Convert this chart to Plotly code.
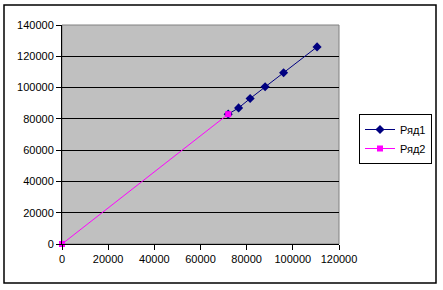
import plotly.graph_objects as go

# Data
ryad1_x = [72000, 76500, 81500, 88000, 96000, 110500]
ryad1_y = [83000, 87000, 93000, 100500, 109500, 126000]
ryad2_x = [0, 72000]
ryad2_y = [0, 83000]
series_names = ["Ряд1", "Ряд2"]
x_ticks = [0, 20000, 40000, 60000, 80000, 100000, 120000]
y_ticks = [0, 20000, 40000, 60000, 80000, 100000, 120000, 140000]

W, H = 443, 290
L, R, T, B = 62, 104, 25, 46
pw = W - L - R
ph = H - T - B

def px(x):
    return (x - L) / pw

def py(y):
    return (H - B - y) / ph

fig = go.Figure()
fig.add_trace(go.Scatter(
    x=ryad1_x, y=ryad1_y, name=series_names[0], mode="lines+markers",
    line=dict(color="#000080", width=1),
    marker=dict(symbol="diamond", size=7, color="#000080"),
    cliponaxis=False,
))
fig.add_trace(go.Scatter(
    x=ryad2_x, y=ryad2_y, name=series_names[1], mode="lines+markers",
    line=dict(color="#FF00FF", width=1),
    marker=dict(symbol="square", size=6, color="#FF00FF"),
    cliponaxis=False,
))

fig.update_layout(
    width=W, height=H,
    margin=dict(l=L, r=R, t=T, b=B, pad=0, autoexpand=False),
    paper_bgcolor="white",
    plot_bgcolor="#C0C0C0",
    font=dict(family="Liberation Sans, Arial", size=11, color="black"),
    showlegend=True,
    legend=dict(
        x=px(432), y=py(114), xanchor="right", yanchor="top",
        bordercolor="black", borderwidth=1, bgcolor="white",
        font=dict(size=11), tracegroupgap=0, itemwidth=30,
    ),
    xaxis=dict(
        range=[0, 120000], tickvals=x_ticks, ticktext=[str(v) for v in x_ticks],
        showgrid=False, zeroline=False, showline=True, linecolor="black", linewidth=1,
        ticks="outside", ticklen=5, tickcolor="black", fixedrange=True,
    ),
    yaxis=dict(
        range=[0, 140000], tickvals=y_ticks, ticktext=[str(v) for v in y_ticks],
        showgrid=True, gridcolor="black", gridwidth=1, zeroline=False,
        showline=True, linecolor="black", linewidth=1,
        ticks="outside", ticklen=5, tickcolor="black", fixedrange=True,
    ),
    shapes=[
        dict(type="rect", xref="paper", yref="paper", x0=0, y0=0, x1=1, y1=1,
             line=dict(color="#808080", width=1), layer="below"),
        dict(type="rect", xref="paper", yref="paper",
             x0=px(4), y0=py(283), x1=px(436), y1=py(5),
             line=dict(color="black", width=1.5), layer="below"),
    ],
)

fig.write_html("out.html")
